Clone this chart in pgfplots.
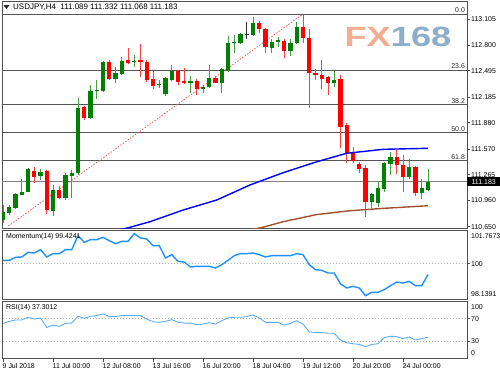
\documentclass[border=0pt]{standalone}
\usepackage{pgfplots}
\pgfplotsset{compat=1.18}
\usepackage{pgfplotstable}
\usepackage{fontspec}
\setmainfont{Liberation Sans}
\definecolor{upc}{HTML}{008000}
\definecolor{dnc}{HTML}{FF0000}
\definecolor{framec}{HTML}{505050}
\definecolor{fibc}{HTML}{555555}
\definecolor{mablue}{HTML}{0000FF}
\definecolor{mabrown}{HTML}{A0522D}
\definecolor{momc}{HTML}{1E90FF}
\definecolor{rsic}{HTML}{5AAEFF}
\definecolor{fxor}{HTML}{F3AE92}
\definecolor{fxbl}{HTML}{8DAEC8}
\definecolor{dotc}{HTML}{B8B8B8}

\pgfplotstableread{
i o h l c
0 110.729 110.906 110.694 110.827
1 110.815 110.906 110.788 110.886
2 110.875 111.052 110.859 111.036
3 111.025 111.210 111.020 111.064
4 111.064 111.340 111.057 111.328
6 111.249 111.336 111.202 111.293
8 110.839 111.143 110.776 111.084
10 110.986 111.281 110.966 111.261
11 111.253 111.320 110.986 111.288
12 111.281 112.168 111.261 112.049
14 111.931 112.325 111.919 112.258
15 112.254 112.384 112.156 112.266
16 112.258 112.612 112.246 112.600
18 112.396 112.541 112.352 112.463
19 112.455 112.652 112.443 112.609
21 112.597 112.679 112.541 112.612
25 112.321 112.384 112.286 112.337
26 112.215 112.423 112.198 112.404
27 112.384 112.561 112.372 112.490
30 112.345 112.431 112.227 112.372
32 112.274 112.325 112.227 112.305
33 112.305 112.558 112.293 112.411
35 112.345 112.522 112.227 112.510
36 112.502 112.904 112.482 112.818
37 112.818 112.916 112.707 112.825
38 112.818 112.936 112.806 112.924
40 112.916 113.125 112.904 113.061
43 112.766 112.865 112.700 112.837
44 112.837 112.889 112.770 112.857
46 112.730 112.865 112.668 112.825
47 112.818 113.073 112.810 113.014
53 112.352 112.502 112.305 112.384
59 110.945 111.052 110.867 111.036
60 110.934 111.194 110.886 111.104
61 111.092 111.418 111.064 111.399
62 111.391 111.536 111.261 111.477
65 111.241 111.447 111.210 111.359
67 111.045 111.210 110.974 111.104
68 111.089 111.332 111.068 111.183
}\up

\pgfplotstableread{
i o h l c
5 111.312 111.359 111.163 111.241
7 111.308 111.315 110.800 110.847
9 111.084 111.131 110.974 110.986
13 112.068 112.077 111.911 111.931
17 112.600 112.620 112.384 112.396
20 112.620 112.766 112.573 112.581
22 112.620 112.806 112.416 112.597
23 112.600 112.620 112.364 112.384
24 112.396 112.502 112.274 112.313
28 112.490 112.502 112.325 112.364
29 112.372 112.522 112.337 112.345
31 112.376 112.396 112.207 112.274
34 112.411 112.431 112.345 112.352
41 113.061 113.085 112.936 112.983
42 112.983 112.995 112.700 112.778
45 112.848 112.865 112.640 112.727
48 113.014 113.164 112.818 112.877
49 112.877 112.983 112.049 112.463
50 112.470 112.514 112.384 112.443
51 112.443 112.620 112.274 112.396
52 112.416 112.431 112.207 112.352
54 112.396 112.443 111.577 111.832
55 111.852 111.872 111.399 111.518
56 111.518 111.596 111.399 111.430
57 111.391 111.418 111.281 111.328
58 111.340 111.379 110.768 110.945
63 111.477 111.557 111.273 111.379
64 111.379 111.497 111.064 111.241
66 111.359 111.367 111.013 111.045
}\down

\pgfplotstableread{
i o h l c
39 112.914 113.066 112.869 112.926
}\doji

\pgfplotstableread{
i v
18 110.600
20.3 110.643
23.5 110.709
28.8 110.847
34.2 110.966
39.5 111.143
44.8 111.288
50.2 111.418
55.0 111.518
60.8 111.565
68 111.577
}\mablue

\pgfplotstableread{
i v
40 110.620
41.4 110.640
44.8 110.709
50.2 110.794
55.5 110.839
60.8 110.867
68 110.898
}\mabrown

\pgfplotstableread{
i v
0 100.172
1 100.172
2 100.330
3 100.348
4 100.593
5 100.558
6 100.733
7 100.348
8 100.523
9 100.523
10 100.733
11 100.733
12 101.469
13 101.119
14 101.259
15 101.259
16 101.382
17 101.206
18 101.049
19 101.171
20 101.171
21 101.575
22 101.347
23 101.294
24 100.943
25 100.943
26 100.295
27 100.470
28 100.120
29 100.085
30 99.822
31 99.857
32 99.857
33 99.857
34 99.769
35 99.944
36 100.172
37 100.418
38 100.523
39 100.523
40 100.558
41 100.470
42 100.348
43 100.418
44 100.418
45 100.418
46 100.418
47 100.523
48 100.470
49 99.944
50 99.682
51 99.647
52 99.506
53 99.506
54 98.928
55 98.718
56 98.805
57 98.718
58 98.314
59 98.490
60 98.490
61 98.630
62 98.840
63 99.033
64 98.980
65 99.068
66 98.840
67 98.840
68 99.424
}\mom

\pgfplotstableread{
i v
0 61.6
1 65.2
2 67.6
3 67.6
4 72.3
5 69.3
6 71.1
7 54.5
8 58.6
9 56.3
10 61.6
11 62.2
12 74.1
13 70.5
14 74.1
15 75.3
16 78.3
17 73.5
18 73.5
19 75.3
20 75.3
21 75.3
22 75.3
23 69.3
24 64.6
25 63.4
26 65.2
27 68.2
28 63.4
29 62.2
30 62.2
31 59.2
32 60.4
33 62.8
34 60.4
35 66.4
36 71.1
37 72.3
38 72.3
39 73.5
40 76.5
41 71.1
42 63.4
43 63.4
44 63.4
45 58.6
46 61.6
47 66.4
48 60.4
49 46.7
50 45.5
51 45.5
52 44.3
53 44.3
54 32.4
55 27.7
56 25.9
57 24.7
58 20.5
59 24.7
60 25.9
61 36.6
62 39.0
63 38.4
64 34.8
65 37.8
66 32.4
67 34.8
68 37.3
}\rsi

\newcommand{\fs}{\fontsize{7}{8}\selectfont}

\pgfplotsset{
  panel/.style={scale only axis, width=465bp, xmin=-0.16, xmax=74.24,
    axis line style={draw=framec, line width=0.8bp},
    xtick=\empty, ytick pos=right, yticklabel pos=right, tick align=outside,
    major tick length=3bp, tick style={draw=framec, line width=0.6bp},
    yticklabel style={font=\fs, anchor=west, inner sep=0pt, xshift=1bp},
    clip mode=individual},
  candle/.style={only marks, mark=*, mark size=0pt, mark options={draw=none, fill=none}, forget plot,
    error bars/.cd, y dir=plus, y explicit, error mark=none, error bar style={#1}},
}

\begin{document}
\begin{tikzpicture}
\path[use as bounding box] (0,0) rectangle (500bp,-375bp);

% ---------------- main price panel ----------------
\begin{axis}[panel, at={(2bp,-1bp)}, anchor=north west, height=227bp,
  ymin=110.635, ymax=113.318,
  ytick={110.65,110.96,111.265,111.57,111.88,112.185,112.495,112.8,113.105},
  yticklabels={110.650,110.960,111.265,111.570,111.880,112.185,112.495,112.800,113.105}]
  % Fibonacci levels
  \addplot[fibc, line width=0.8bp, forget plot] coordinates {(-1,113.164) (75,113.164)};
  \addplot[fibc, line width=0.8bp, forget plot] coordinates {(-1,112.502) (75,112.502)};
  \addplot[fibc, line width=0.8bp, forget plot] coordinates {(-1,112.093) (75,112.093)};
  \addplot[fibc, line width=0.8bp, forget plot] coordinates {(-1,111.762) (75,111.762)};
  \addplot[fibc, line width=0.8bp, forget plot] coordinates {(-1,111.430) (75,111.430)};
  % current price line
  \addplot[gray, line width=1.1bp, forget plot] coordinates {(-1,111.183) (75,111.183)};
  % trend line
  \addplot[dnc!70, line width=0.7bp, dash pattern=on 1.5bp off 1.5bp, forget plot] coordinates {(0.85,110.658) (48,113.164)};
  % wicks
  \addplot[candle={draw=upc!75, line width=0.9bp}] table[x=i, y=l, y error expr=\thisrow{h}-\thisrow{l}] {\up};
  \addplot[candle={draw=dnc!75, line width=0.9bp}] table[x=i, y=l, y error expr=\thisrow{h}-\thisrow{l}] {\down};
  \addplot[candle={draw=black!80, line width=0.9bp}] table[x=i, y=l, y error expr=\thisrow{h}-\thisrow{l}] {\doji};
  % bodies
  \addplot[candle={draw=upc, line width=4.4bp}] table[x=i, y=o, y error expr={max(\thisrow{c}-\thisrow{o},0.012)}] {\up};
  \addplot[candle={draw=dnc, line width=4.4bp}] table[x=i, y=c, y error expr={max(\thisrow{o}-\thisrow{c},0.012)}] {\down};
  \addplot[candle={draw=black!80, line width=4.4bp}] table[x=i, y=o, y error expr={max(\thisrow{c}-\thisrow{o},0.012)}] {\doji};
  % moving averages
  \addplot[mablue, line width=1.4bp, forget plot] table[x=i, y=v] {\mablue};
  \addplot[mabrown, line width=1.4bp, forget plot] table[x=i, y=v] {\mabrown};
  % fib labels
  \node[font=\fs, anchor=south east, inner sep=1bp, text=black!85] at (axis cs:74.1,113.164) {0.0};
  \node[font=\fs, anchor=south east, inner sep=1bp, text=black!85] at (axis cs:74.1,112.502) {23.6};
  \node[font=\fs, anchor=south east, inner sep=1bp, text=black!85] at (axis cs:74.1,112.093) {38.2};
  \node[font=\fs, anchor=south east, inner sep=1bp, text=black!85] at (axis cs:74.1,111.762) {50.0};
  \node[font=\fs, anchor=south east, inner sep=1bp, text=black!85] at (axis cs:74.1,111.430) {61.8};
  \node[font=\fs, anchor=west, fill=black, text=white, inner sep=1bp, minimum width=33bp, minimum height=8.5bp] at (axis cs:74.24,111.183) {111.183};
\end{axis}

% ---------------- momentum panel ----------------
\begin{axis}[panel, at={(2bp,-230bp)}, anchor=north west, height=69bp,
  ymin=98.1391, ymax=101.7673, ytick={100}, yticklabels={100}]
  \addplot[dotc, line width=0.7bp, dash pattern=on 1.2bp off 1.8bp, forget plot] coordinates {(-1,100) (75,100)};
  \addplot[momc, line width=1.4bp, forget plot] table[x=i, y=v] {\mom};
\end{axis}

% ---------------- RSI panel ----------------
\begin{axis}[panel, at={(2bp,-301.5bp)}, anchor=north west, height=57bp,
  ymin=0, ymax=100, ytick={30,70}, yticklabels={30,70},
  xtick={0,8,16,24,32,40,48,56,64},
  xticklabels={9 Jul 2018,11 Jul 00:00,12 Jul 08:00,13 Jul 16:00,16 Jul 20:00,18 Jul 04:00,19 Jul 12:00,20 Jul 20:00,24 Jul 00:00},
  xtick pos=bottom, xticklabel pos=bottom,
  xticklabel style={font=\fs, anchor=north west, inner sep=0pt, xshift=-0.5bp, yshift=-2bp}]
  \addplot[dotc, line width=0.7bp, dash pattern=on 1.2bp off 1.8bp, forget plot] coordinates {(-1,70) (75,70)};
  \addplot[dotc, line width=0.7bp, dash pattern=on 1.2bp off 1.8bp, forget plot] coordinates {(-1,30) (75,30)};
  \addplot[rsic, line width=0.9bp, forget plot] table[x=i, y=v] {\rsi};
\end{axis}

% ---------------- texts ----------------
\fill[black!85] (3.5bp,-5bp) -- (9.5bp,-5bp) -- (6.5bp,-9bp) -- cycle;
\node[font=\fontsize{8}{9}\selectfont, anchor=west, inner sep=0pt] at (13bp,-7.5bp) {USDJPY,H4\ \ 111.089 111.332 111.068 111.183};
\node[anchor=center, inner sep=0pt, xscale=1.3] at (398bp,-37bp) {\fontsize{28}{28}\selectfont\bfseries\textcolor{fxor}{FX}\textcolor{fxbl}{168}};
\node[font=\fs, anchor=west, inner sep=0pt] at (6bp,-236.5bp) {Momentum(14) 99.4241};
\node[font=\fs, anchor=west, inner sep=0pt] at (6bp,-308bp) {RSI(14) 37.3012};
\node[font=\fs, anchor=west, inner sep=0pt] at (471bp,-236.5bp) {101.7673};
\node[font=\fs, anchor=west, inner sep=0pt] at (471bp,-294.5bp) {98.1391};
\node[font=\fs, anchor=west, inner sep=0pt] at (471bp,-306.7bp) {100};
\node[font=\fs, anchor=west, inner sep=0pt] at (471bp,-353.3bp) {0};
\end{tikzpicture}
\end{document}
